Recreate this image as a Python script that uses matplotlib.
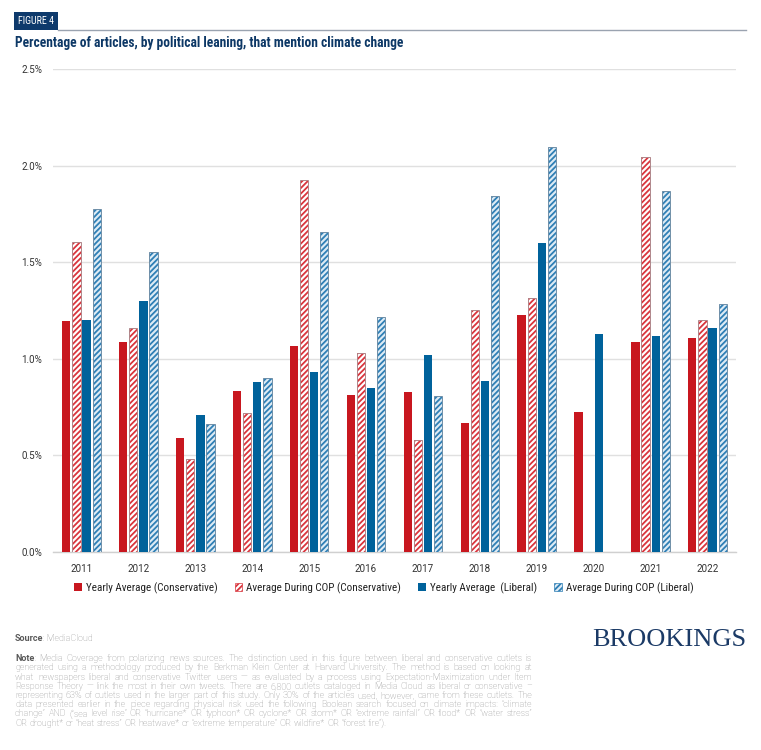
import matplotlib
matplotlib.use("Agg")
import matplotlib.pyplot as plt
from matplotlib import font_manager
from matplotlib.patches import Rectangle, Patch
import numpy as np

# ---------------- data ----------------
years = ["2011", "2012", "2013", "2014", "2015", "2016", "2017", "2018", "2019", "2020", "2021", "2022"]
yearly_cons = [1.195, 1.084, 0.588, 0.834, 1.063, 0.813, 0.826, 0.667, 1.224, 0.722, 1.084, 1.109]
cop_cons    = [1.605, 1.161, 0.481, 0.719, 1.925, 1.027, 0.578, 1.252, 1.312, np.nan, 2.045, 1.199]
yearly_lib  = [1.199, 1.300, 0.708, 0.879, 0.932, 0.848, 1.018, 0.884, 1.600, 1.128, 1.116, 1.159]
cop_lib     = [1.777, 1.553, 0.660, 0.898, 1.656, 1.214, 0.805, 1.844, 2.097, np.nan, 1.866, 1.285]
series_labels = ["Yearly Average (Conservative)", "Average During COP (Conservative)",
                 "Yearly Average  (Liberal)", "Average During COP (Liberal)"]
yticks = [0.0, 0.5, 1.0, 1.5, 2.0, 2.5]
ytick_labels = ["0.0%", "0.5%", "1.0%", "1.5%", "2.0%", "2.5%"]

# ---------------- fonts ----------------
names = {f.name for f in font_manager.fontManager.ttflist}
def pick(cands):
    for c in cands:
        if c in names:
            return c
    return "DejaVu Sans"
COND = pick(["Roboto Condensed", "Roboto", "Liberation Sans"])
NORM = pick(["Roboto", "Liberation Sans"])
SERIF = pick(["Liberation Serif", "DejaVu Serif"])
plt.rcParams["font.family"] = [COND, "DejaVu Sans"]
plt.rcParams["hatch.linewidth"] = 1.3

RED = "#C8171F"
BLUE = "#00629B"
LBLUE = "#2F7FB5"
NAVY = "#0D3866"
GRID = "#E0E0E0"

W, H = 761, 750
fig = plt.figure(figsize=(W / 100, H / 100), dpi=100)

# axes placement in pixels
L, R, B, T = 53, 736, 551.7, 69
ax = fig.add_axes([L / W, 1 - B / H, (R - L) / W, (B - T) / H])

x = np.arange(len(years))
pitch = 0.178
bw = 0.146
offs = np.array([-1.5, -0.5, 0.5, 1.5]) * pitch

ax.bar(x + offs[0], yearly_cons, bw, color=RED, linewidth=0, zorder=3)
ax.bar(x + offs[1], cop_cons, bw, facecolor="white", edgecolor="#D9353D", hatch="//////", linewidth=0, zorder=3)
ax.bar(x + offs[1], cop_cons, bw, facecolor="none", edgecolor="#B0868A", linewidth=0.7, zorder=4)
ax.bar(x + offs[2], yearly_lib, bw, color=BLUE, linewidth=0, zorder=3)
ax.bar(x + offs[3], cop_lib, bw, facecolor="#DDEBF5", edgecolor=LBLUE, hatch="//////", linewidth=0, zorder=3)
ax.bar(x + offs[3], cop_lib, bw, facecolor="none", edgecolor="#6F8FA8", linewidth=0.7, zorder=4)

ax.set_xlim(-0.5, 11.5)
ax.set_ylim(0, 2.5)
ax.set_yticks(yticks)
ax.set_yticklabels(ytick_labels, family=[NORM, "DejaVu Sans"])
ax.set_xticks(x)
ax.set_xticklabels(years, family=[NORM, "DejaVu Sans"])
ax.tick_params(axis="both", length=0, labelsize=7.1, labelcolor="#333333")
ax.tick_params(axis="y", pad=8)
ax.tick_params(axis="x", pad=9)
ax.yaxis.grid(True, color=GRID, linewidth=1.0, zorder=0)
ax.set_axisbelow(True)
for s in ["top", "right", "left"]:
    ax.spines[s].set_visible(False)
ax.spines["bottom"].set_color("#D0D0D0")
ax.spines["bottom"].set_linewidth(1.0)

# legend
handles = [
    Patch(facecolor=RED, edgecolor=RED, linewidth=0),
    Patch(facecolor="white", edgecolor="#D9353D", hatch="//////", linewidth=0.5),
    Patch(facecolor=BLUE, edgecolor=BLUE, linewidth=0),
    Patch(facecolor="#DDEBF5", edgecolor=LBLUE, hatch="//////", linewidth=0.5),
]
fig.legend(handles, series_labels, loc="center", bbox_to_anchor=(384 / W, 1 - 588 / H),
           ncol=4, frameon=False, fontsize=8.0, handlelength=0.7, handleheight=0.7,
           handletextpad=0.35, columnspacing=1.55, labelcolor="#222222")

# header
fig.patches.append(Rectangle((14 / W, 1 - 29.5 / H), 44 / W, 17.5 / H, transform=fig.transFigure,
                             facecolor="#0E3A6C", edgecolor="none"))
fig.text(36 / W, 1 - 21 / H, "FIGURE 4", color="white", fontsize=7.2, ha="center", va="center")
fig.add_artist(plt.Line2D([58 / W, 746 / W], [1 - 29.5 / H, 1 - 29.5 / H], transform=fig.transFigure,
                          color="#9AA3B0", linewidth=1.0))
fig.text(15 / W, 1 - 43 / H, "Percentage of articles, by political leaning, that mention climate change",
         color=NAVY, fontsize=9.75, fontweight="bold", ha="left", va="center")

# brand
fig.text(746 / W, 1 - 640 / H, "BROOKINGS", family=SERIF, color="#1B3A66", fontsize=19,
         ha="right", va="center")

# source & note
GRAY = "#8E8E8E"
DGRAY = "#5A5A5A"
fig.canvas.draw()
renderer = fig.canvas.get_renderer()

note_lines = [
    "Note: Media Coverage from polarizing news sources. The distinction used in this figure between liberal and conservative outlets is",
    "generated using a methodology produced by the Berkman Klein Center at Harvard University. The method is based on looking at",
    "what newspapers liberal and conservative Twitter users \u2014 as evaluated by a process using Expectation-Maximization under Item",
    "Response Theory \u2014 link the most in their own tweets. There are 6,800 outlets cataloged in Media Cloud as liberal or conservative \u2013",
    "representing 63% of outlets used in the larger part of this study. Only 30% of the articles used, however, came from these outlets. The",
    "data presented earlier in the piece regarding physical risk used the following Boolean search focused on climate impacts: \u201cclimate",
    "change\u201d AND (\u201csea level rise\u201d OR \u201churricane* OR typhoon* OR cyclone* OR storm* OR \u201cextreme rainfall\u201d OR flood* OR \u201cwater stress\u201d",
    "OR drought* or \u201cheat stress\u201d OR heatwave* or \u201cextreme temperature\u201d OR wildfire* OR \u201cforest fire\u201d).",
]

def measure(s, fs, **kw):
    t = fig.text(0, 0, s, fontsize=fs, family=[NORM, "DejaVu Sans"], **kw)
    w = t.get_window_extent(renderer).width
    t.remove()
    return w

x0, x1 = 15.0, 532.0
nat = max(measure(l, 7.0, fontweight="light") for l in note_lines[:-1])
FS = 7.0 * (x1 - x0 - 3) / nat
base_off = FS * 100 / 72 * 0.36  # baseline offset from line centre, px

t1 = fig.text(15 / W, 1 - (638 + base_off) / H, "Source", color=DGRAY, fontsize=FS, fontweight="bold",
              family=[NORM, "DejaVu Sans"], va="baseline")
bb = t1.get_window_extent(renderer)
fig.text(bb.x1 / W, 1 - (638 + base_off) / H, ": MediaCloud", color=GRAY, fontsize=FS, fontweight="light",
         family=[NORM, "DejaVu Sans"], va="baseline")

y0, dy = 658.0, 9.2
for i, line in enumerate(note_lines):
    words = line.split(" ")
    segs = []
    for j, wd in enumerate(words):
        if i == 0 and j == 0:
            segs.append([("Note", "bold", DGRAY), (":", "light", GRAY)])
        else:
            segs.append([(wd, "light", GRAY)])
    widths = [sum(measure(t, FS, fontweight=w) for t, w, c in sg) for sg in segs]
    total = sum(widths)
    if i < len(note_lines) - 1 and len(segs) > 1:
        gap = (x1 - x0 - total) / (len(segs) - 1)
    else:
        gap = measure("a b", FS, fontweight="light") - measure("ab", FS, fontweight="light")
    cx = x0
    yy = 1 - (y0 + i * dy + base_off) / H
    for sg, wdt in zip(segs, widths):
        px = cx
        for t, w, c in sg:
            fig.text(px / W, yy, t, fontsize=FS, fontweight=w, color=c, ha="left", va="baseline",
                     family=[NORM, "DejaVu Sans"])
            px += measure(t, FS, fontweight=w)
        cx += wdt + gap

fig.savefig("out.png", dpi=100, facecolor="white")
